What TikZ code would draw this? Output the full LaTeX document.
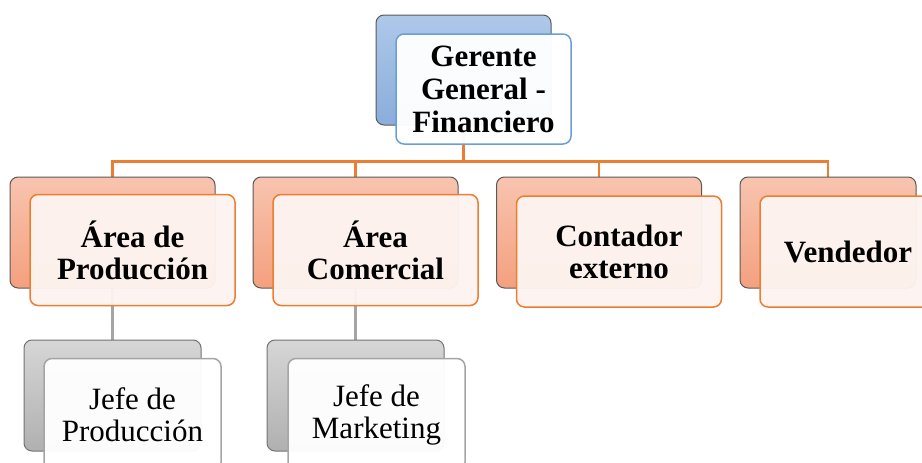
\documentclass[tikz,border=0pt]{standalone}
\usepackage{fontspec}
\setmainfont{Liberation Serif}
\usepackage{tikz}
\usetikzlibrary{shapes,backgrounds}
\definecolor{bluetop}{HTML}{AEC8E9}
\definecolor{bluebot}{HTML}{8AADDB}
\definecolor{blueline}{HTML}{6A9FD6}
\definecolor{orangetop}{HTML}{F8C4AF}
\definecolor{orangebot}{HTML}{F4A07F}
\definecolor{orangeline}{HTML}{ED7D31}
\definecolor{orangefill}{HTML}{FDF4F0}
\definecolor{greytop}{HTML}{D6D6D6}
\definecolor{greybot}{HTML}{B0B0B0}
\definecolor{greyline}{HTML}{A5A5A5}
\tikzstyle{box}=[rectangle,rounded corners=8pt,inner sep=0pt,align=center,line width=1pt]
\tikzstyle{blue back}=[box,draw=black!65,top color=bluetop,bottom color=bluebot,minimum width=175pt,minimum height=110pt]
\tikzstyle{blue front}=[box,draw=blueline,line width=1.5pt,fill=white,fill opacity=0.96,text opacity=1,minimum width=175pt,minimum height=110pt,font=\fontsize{31}{33}\selectfont\bfseries]
\tikzstyle{orange back}=[box,draw=black!65,top color=orangetop,bottom color=orangebot,minimum width=205pt,minimum height=111pt]
\tikzstyle{orange front}=[box,draw=orangeline,line width=1.5pt,fill=orangefill,fill opacity=0.96,text opacity=1,minimum width=205pt,minimum height=111pt,font=\fontsize{31}{32}\selectfont\bfseries]
\tikzstyle{grey back}=[box,draw=black!55,top color=greytop,bottom color=greybot,minimum width=177pt,minimum height=111pt]
\tikzstyle{grey front}=[box,draw=greyline,line width=1.5pt,fill=white,fill opacity=0.96,text opacity=1,minimum width=177pt,minimum height=112pt,font=\fontsize{31}{32}\selectfont]
\tikzstyle{edge}=[draw,line width=2.6pt,-]
\tikzstyle{orange edge}=[edge,draw=orangeline]
\tikzstyle{grey edge}=[edge,draw=greyline]

\begin{document}
\begin{tikzpicture}[x=1pt,y=1pt]
        \useasboundingbox (0,0) rectangle (922,-463);
        \clip (0,0) rectangle (922,-463);
        % gerente
        \node[blue back] (bgg) at (463.5,-70) {};
        \node[blue front] (gg) at (483.5,-89) {Gerente\\General -\\Financiero};
        % areas
        \node[orange back] (bap) at (112.5,-232.5) {};
        \node[orange front] (ap) at (132.5,-250) {Área de\\Producción};
        \node[orange back] (bac) at (355.5,-232.5) {};
        \node[orange front] (ac) at (375.5,-250) {Área\\Comercial};
        \node[orange back] (bce) at (599,-232.5) {};
        \node[orange front] (ce) at (619,-251.5) {Contador\\externo};
        \node[orange back,minimum width=176pt] (bve) at (828,-232.5) {};
        \node[orange front,minimum width=176pt] (ve) at (848,-251.5) {Vendedor};
        % jefes
        \node[grey back] (bjp) at (112.5,-395.5) {};
        \node[grey front] (jp) at (132.5,-414.5) {Jefe de\\Producción};
        \node[grey back] (bjm) at (355.5,-395.5) {};
        \node[grey front] (jm) at (376.5,-414.5) {Jefe de\\Marketing};
        \begin{scope}[on background layer]
        \draw[orange edge] (bgg.south) -- ++(0,-36) -| (bap.north);
        \draw[orange edge] (bgg.south) -- ++(0,-36) -| (bac.north);
        \draw[orange edge] (bgg.south) -- ++(0,-36) -| (bce.north);
        \draw[orange edge] (bgg.south) -- ++(0,-36) -| (bve.north);
        \draw[grey edge] (bap.south) to (bjp.north);
        \draw[grey edge] (bac.south) to (bjm.north);
        \end{scope}
      \end{tikzpicture}
\end{document}
